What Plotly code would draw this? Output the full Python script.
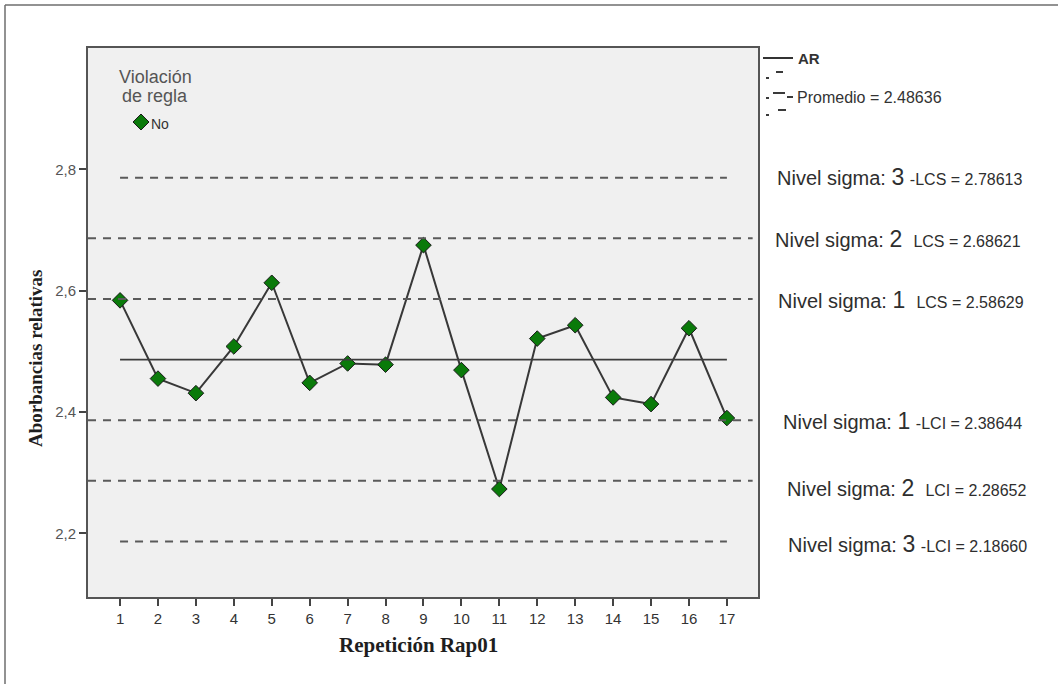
import plotly.graph_objects as go

# Repetition index and measured relative absorbance
repeticion = list(range(1, 18))
absorbancia = [2.584, 2.455, 2.431, 2.508, 2.613, 2.448, 2.480, 2.478, 2.675,
               2.469, 2.273, 2.521, 2.543, 2.424, 2.413, 2.538, 2.390]

promedio = 2.48636
# control limits: (sigma level, label, value)
limites_sup = [(3, "-LCS", 2.78613), (2, "LCS", 2.68621), (1, "LCS", 2.58629)]
limites_inf = [(1, "-LCI", 2.38644), (2, "LCI", 2.28652), (3, "-LCI", 2.18660)]

y_ticks = [2.2, 2.4, 2.6, 2.8]
y_ticklabels = ["2,2", "2,4", "2,6", "2,8"]

W_PX, H_PX = 1059, 684
L, R, T, B = 88, 758, 48, 597


def px(x):
    return (x - L) / (R - L)


def py(y):
    return (B - y) / (B - T)


fig = go.Figure()

fig.add_trace(go.Scatter(
    x=repeticion, y=absorbancia, mode="lines+markers",
    line=dict(color="#383838", width=2),
    marker=dict(symbol="diamond", size=12, color="#0a7a0a",
                line=dict(color="#1a1a1a", width=1)),
    showlegend=False,
))

shapes = []
dash = "8px,7px"
# mean line
shapes.append(dict(type="line", xref="x", yref="y", x0=repeticion[0], x1=repeticion[-1],
                   y0=promedio, y1=promedio, line=dict(color="#3c3c3c", width=1.6)))
for nivel, lab, v in limites_sup + limites_inf:
    if nivel == 3:
        shapes.append(dict(type="line", xref="x", yref="y", x0=repeticion[0], x1=repeticion[-1],
                           y0=v, y1=v, line=dict(color="#5a5a5a", width=2, dash=dash)))
    else:
        shapes.append(dict(type="line", xref="paper", yref="y", x0=0, x1=0.992,
                           y0=v, y1=v, line=dict(color="#5a5a5a", width=2, dash=dash)))

# outer frame (top and left edges)
shapes.append(dict(type="line", xref="paper", yref="paper", x0=px(5), x1=px(1058),
                   y0=py(5), y1=py(5), line=dict(color="#6e6e6e", width=1.5)))
shapes.append(dict(type="line", xref="paper", yref="paper", x0=px(5), x1=px(5),
                   y0=py(5), y1=py(684), line=dict(color="#6e6e6e", width=1.5)))

# key for rule violations: diamond symbol
cx, cy, hs = 141, 122, 8
shapes.append(dict(
    type="path", xref="paper", yref="paper",
    path=(f"M {px(cx - hs)} {py(cy)} L {px(cx)} {py(cy - hs)} "
          f"L {px(cx + hs)} {py(cy)} L {px(cx)} {py(cy + hs)} Z"),
    fillcolor="#0a7a0a", line=dict(color="#1a1a1a", width=1)))

# right-side key: AR line and average bracket
shapes.append(dict(type="line", xref="paper", yref="paper", x0=px(763), x1=px(793),
                   y0=py(58), y1=py(58), line=dict(color="#333", width=2)))
for (x0, x1, y) in [(766, 769, 78), (776, 783, 72), (766, 769, 98), (773, 785, 93),
                    (787, 793, 97), (766, 769, 115), (778, 786, 110)]:
    shapes.append(dict(type="line", xref="paper", yref="paper", x0=px(x0), x1=px(x1),
                       y0=py(y), y1=py(y), line=dict(color="#3a3a3a", width=2)))

annotations = []
for txt, y in [("Violación", 77), ("de regla", 96)]:
    annotations.append(dict(xref="paper", yref="paper", x=px(155), y=py(y),
                            text=txt, showarrow=False, xanchor="center", yanchor="middle",
                            font=dict(family="Arial", size=18, color="#555")))
annotations.append(dict(xref="paper", yref="paper", x=px(149), y=py(124), text="No",
                        showarrow=False, xanchor="left", yanchor="middle",
                        font=dict(family="Arial", size=14, color="#333")))
annotations.append(dict(xref="paper", yref="paper", x=px(796), y=py(59), text="<b>AR</b>",
                        showarrow=False, xanchor="left", yanchor="middle",
                        font=dict(family="Arial", size=15, color="#333")))
annotations.append(dict(xref="paper", yref="paper", x=px(795), y=py(98),
                        text=f"Promedio = {promedio:.5f}",
                        showarrow=False, xanchor="left", yanchor="middle",
                        font=dict(family="Arial", size=16, color="#333")))

pos_sup = [(775, 177), (773, 239), (776, 300)]
pos_inf = [(781, 421), (785, 488), (786, 544)]
for (nivel, lab, v), (x, y) in zip(limites_sup + limites_inf, pos_sup + pos_inf):
    gap = " " if lab.startswith("-") else "&nbsp;&nbsp;"
    txt = (f"Nivel sigma:&nbsp;<span style='font-size:23px'>{nivel}</span>{gap}"
           f"<span style='font-size:16px'>{lab} = {v:.5f}</span>")
    annotations.append(dict(xref="paper", yref="paper", x=px(x), y=py(y), text=txt,
                            showarrow=False, xanchor="left", yanchor="middle",
                            font=dict(family="Arial", size=20, color="#2e2e2e")))

# axis titles
annotations.append(dict(xref="paper", yref="paper", x=px(35), y=py(358),
                        text="<b>Aborbancias relativas</b>", textangle=-90,
                        showarrow=False, xanchor="center", yanchor="middle",
                        font=dict(family="Liberation Serif", size=19, color="#1e1e1e")))
annotations.append(dict(xref="paper", yref="paper", x=px(418), y=py(645),
                        text="<b>Repetición Rap01</b>",
                        showarrow=False, xanchor="center", yanchor="middle",
                        font=dict(family="Liberation Serif", size=21, color="#1e1e1e")))

fig.update_layout(
    width=W_PX, height=H_PX,
    margin=dict(l=L, r=W_PX - R, t=T, b=H_PX - B, pad=0),
    paper_bgcolor="white", plot_bgcolor="#f0f0f0",
    shapes=shapes, annotations=annotations,
    showlegend=False,
    xaxis=dict(
        range=[0.155, 17.82], tickmode="array", tickvals=repeticion,
        ticktext=[str(r) for r in repeticion],
        ticks="outside", ticklen=7, tickwidth=2, tickcolor="#444",
        showgrid=False, zeroline=False,
        showline=True, linecolor="#555", linewidth=2, mirror=True,
        tickfont=dict(family="Arial", size=15, color="#333"),
    ),
    yaxis=dict(
        range=[2.095, 3.0], tickmode="array", tickvals=y_ticks, ticktext=y_ticklabels,
        ticks="outside", ticklen=7, tickwidth=2, tickcolor="#444",
        showgrid=False, zeroline=False,
        showline=True, linecolor="#555", linewidth=2, mirror=True,
        tickfont=dict(family="Arial", size=15, color="#555"),
    ),
)

fig.write_html("out.html")
